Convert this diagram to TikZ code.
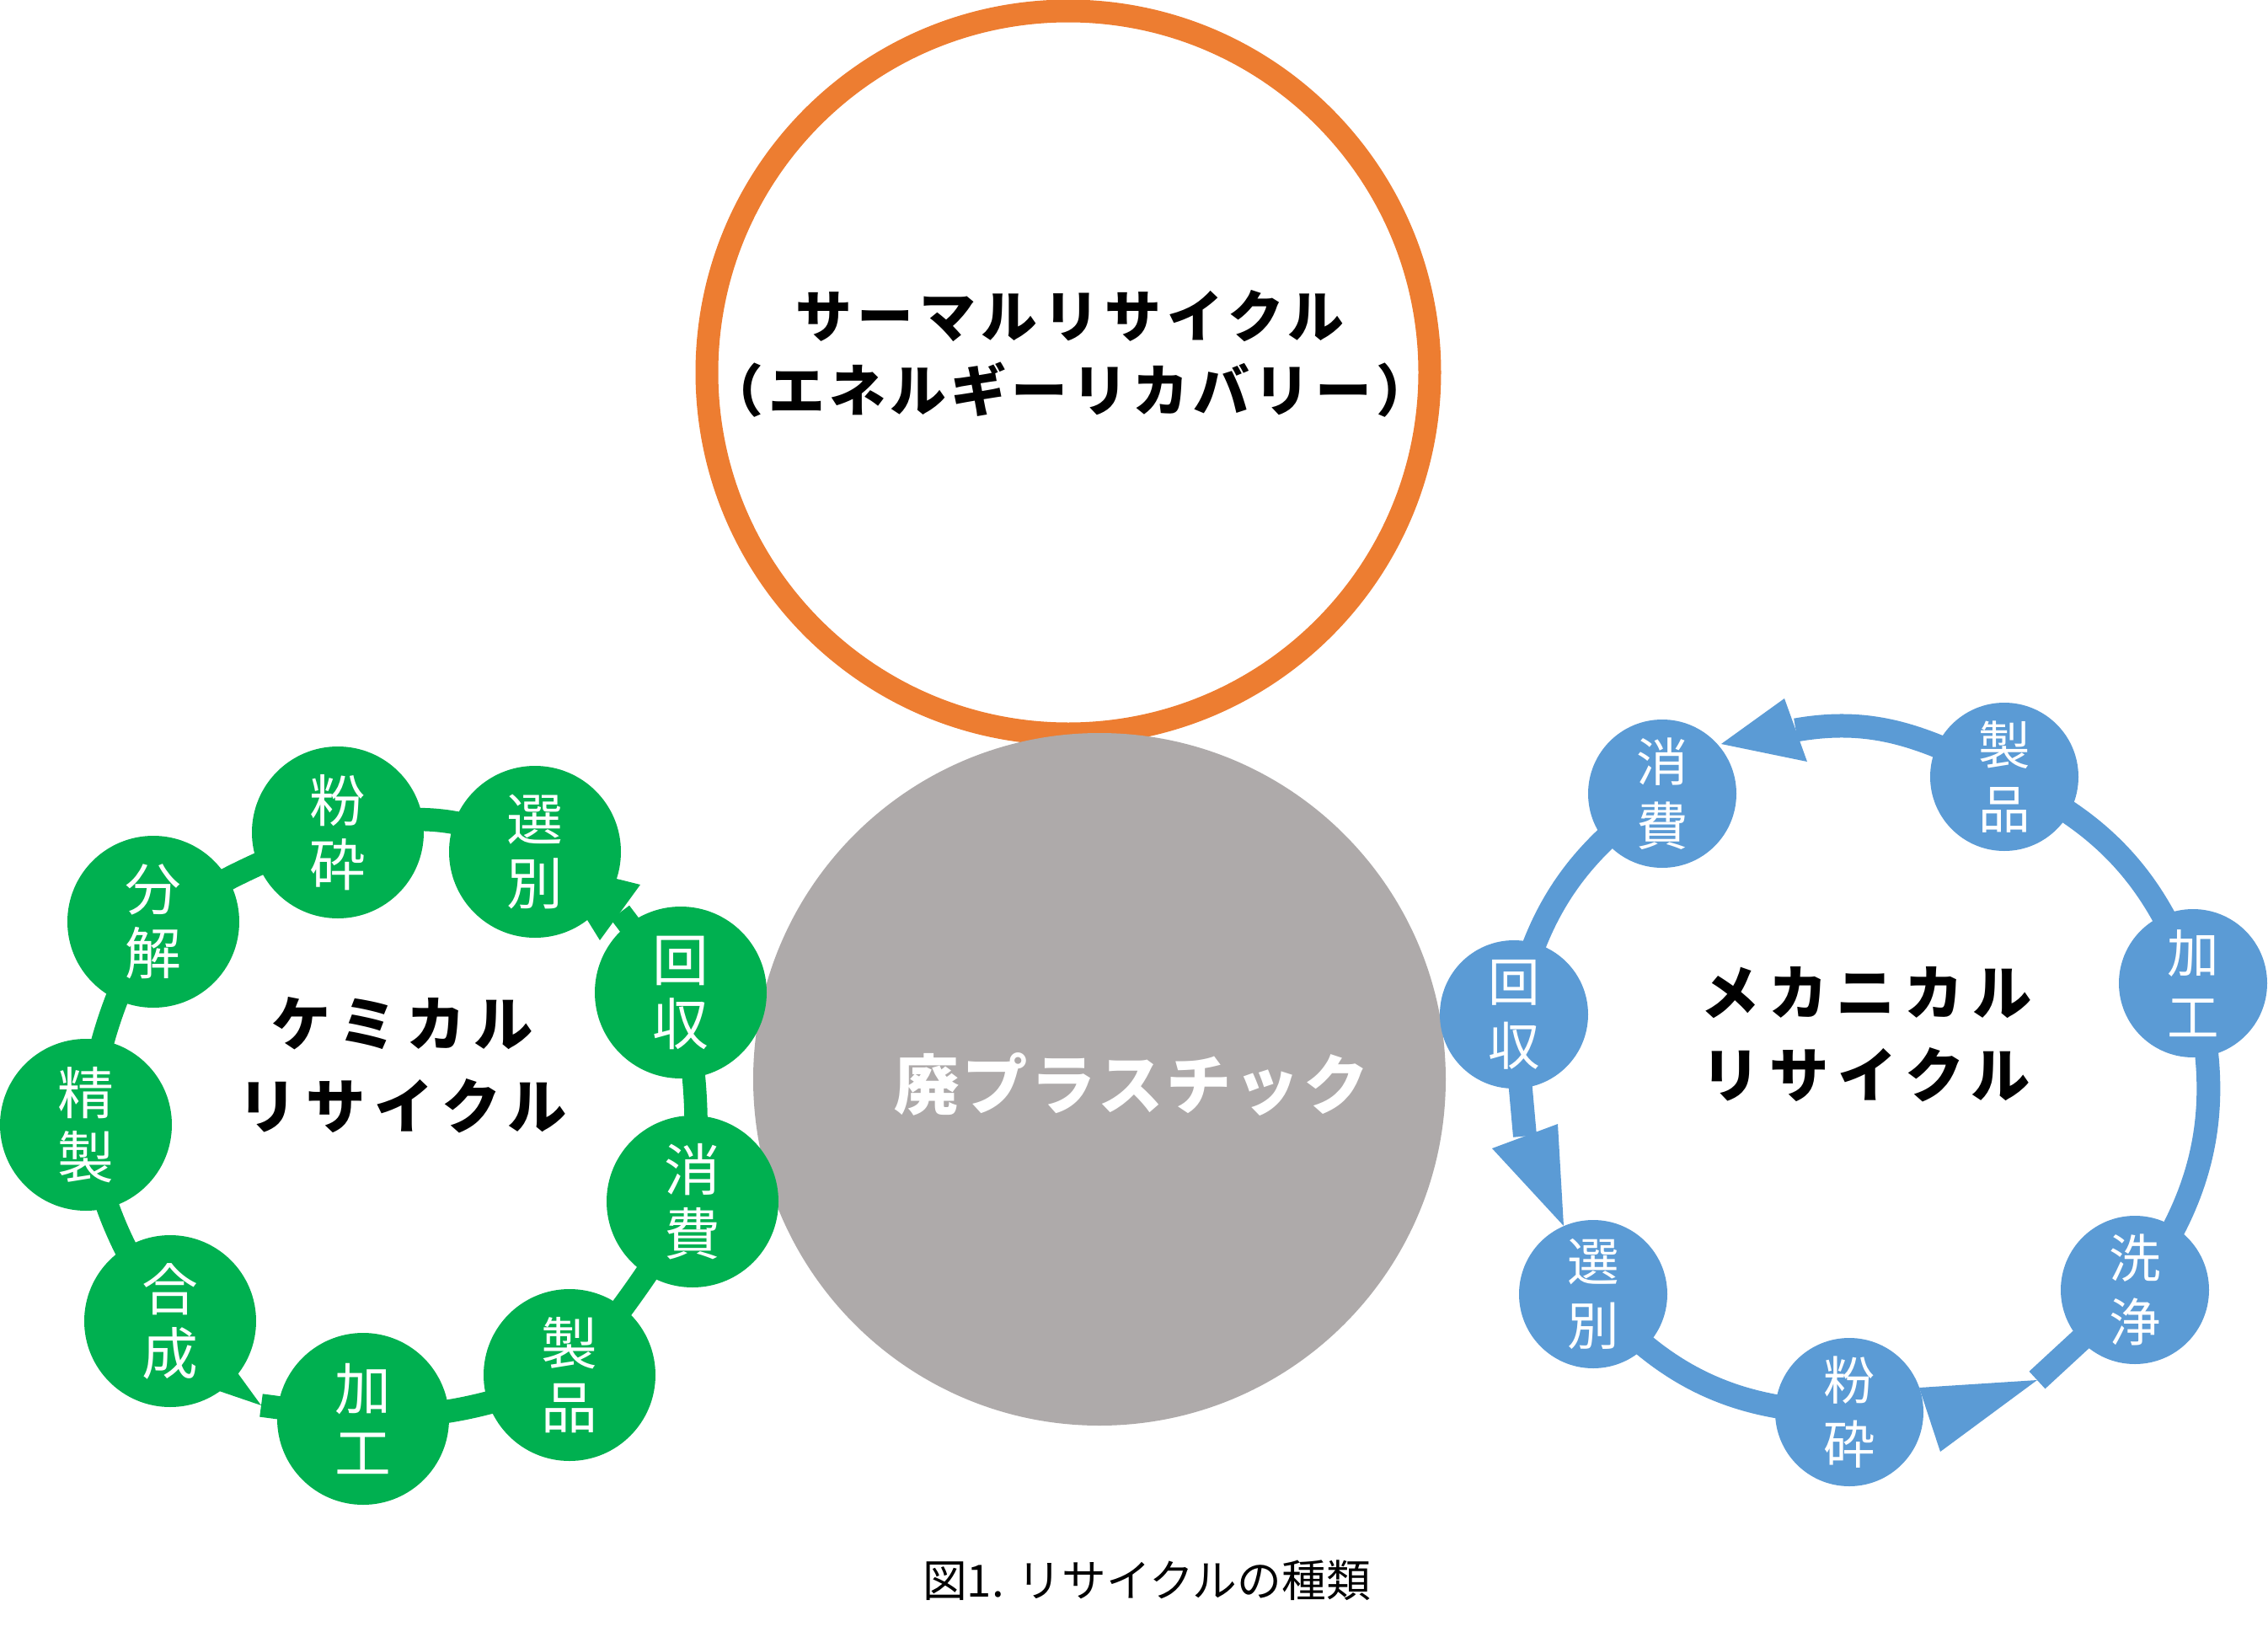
\documentclass[tikz,border=0pt]{standalone}
\usepackage{fontspec}
\setmainfont{Noto Sans CJK JP}
\usepackage{tikz}
\usetikzlibrary{backgrounds}
\definecolor{cgreen}{HTML}{00B050}
\definecolor{mblue}{HTML}{5B9BD5}
\definecolor{torange}{HTML}{ED7D31}
\definecolor{wgray}{HTML}{AEAAAA}
\tikzstyle{cstep} = [circle, fill=cgreen, text=white, minimum size=2.04cm, inner sep=0pt, align=center, font=\fontsize{19}{21.6}\selectfont]
\tikzstyle{mstep} = [circle, fill=mblue, text=white, minimum size=1.76cm, inner sep=0pt, align=center, font=\fontsize{17.5}{21.6}\selectfont]
\tikzstyle{cline} = [draw=cgreen, line width=0.275cm]
\tikzstyle{mline} = [draw=mblue, line width=0.28cm]
\tikzstyle{cycletitle} = [align=center, font=\bfseries\fontsize{20}{27.9}\selectfont\addfontfeature{LetterSpace=15}]

\begin{document}
\begin{tikzpicture}
\useasboundingbox (0,0) rectangle (26.92,-19.37);
% thermal recycling
\node [circle, draw=torange, line width=0.27cm, minimum size=8.58cm, inner sep=0pt] (thermal) at (12.68,-4.42) {};
\node [align=center, font=\bfseries\fontsize{19}{25}\selectfont] (thermal-label) at (12.70,-4.195) {{\addfontfeature{LetterSpace=10}サーマルリサイクル}\\{\addfontfeature{LetterSpace=8}（エネルギーリカバリー）}};
% waste plastic
\node [circle, fill=wgray, minimum size=8.22cm, inner sep=0pt] (waste) at (13.05,-12.81) {};
\node [text=white, font=\bfseries\fontsize{22}{26}\selectfont\addfontfeature{LetterSpace=5}] (waste-label) at (13.43,-12.87) {廃プラスチック};

% chemical recycling
\node [cstep] (c-funsai) at (4.01,-9.88) {粉\\砕};
\node [cstep] (c-senbetsu) at (6.35,-10.11) {選\\別};
\node [cstep] (c-kaishu) at (8.08,-11.78) {回\\収};
\node [cstep] (c-shohi) at (8.22,-14.26) {消\\費};
\node [cstep] (c-seihin) at (6.76,-16.32) {製\\品};
\node [cstep] (c-kako) at (4.31,-16.84) {加\\工};
\node [cstep] (c-gosei) at (2.02,-15.68) {合\\成};
\node [cstep] (c-seisei) at (1.02,-13.35) {精\\製};
\node [cstep] (c-bunkai) at (1.82,-10.94) {分\\解};
\node [cycletitle] (c-label) at (4.78,-12.64) {ケミカル\\リサイクル};
\coordinate (c-m1) at (7.36,-10.83);
\coordinate (c-b1a) at (7.60,-10.50);
\coordinate (c-b1b) at (7.12,-11.16);
\coordinate (c-t1) at (6.55,-10.24);
\coordinate (c-t2) at (3.10,-16.68);
\coordinate (c-b2a) at (2.30,-15.58);
\coordinate (c-b2b) at (1.81,-16.24);

% mechanical recycling
\node [mstep] (m-shohi) at (19.73,-9.42) {消\\費};
\node [mstep] (m-seihin) at (23.79,-9.22) {製\\品};
\node [mstep] (m-kako) at (26.03,-11.67) {加\\工};
\node [mstep] (m-senjo) at (25.34,-15.31) {洗\\浄};
\node [mstep] (m-funsai) at (21.95,-16.76) {粉\\砕};
\node [mstep] (m-senbetsu) at (18.91,-15.36) {選\\別};
\node [mstep] (m-kaishu) at (17.97,-12.04) {回\\収};
\node [cycletitle] (m-label) at (22.15,-12.28) {メカニカル\\リサイクル};
\coordinate (m-m1) at (21.315,-8.665);
\coordinate (m-b1a) at (21.18,-8.29);
\coordinate (m-b1b) at (21.45,-9.04);
\coordinate (m-t1) at (20.43,-8.83);
\coordinate (m-m2) at (18.10,-13.485);
\coordinate (m-b2a) at (17.71,-13.63);
\coordinate (m-b2b) at (18.49,-13.34);
\coordinate (m-t2) at (18.56,-14.55);
\coordinate (m-t3) at (24.18,-16.38);
\coordinate (m-b3a) at (22.78,-16.47);
\coordinate (m-b3b) at (23.03,-17.23);

\begin{pgfonlayer}{background}
\path [cline] (c-kaishu.center) -- (c-m1);
\fill [cgreen] (c-b1a) -- (c-b1b) -- (c-t1) -- cycle;
\path [cline] (c-senbetsu.center) to[bend right=22] (c-funsai.center);
\path [cline] (c-funsai.center) to[bend right=6] (c-bunkai.center);
\path [cline] (c-bunkai.center) to[bend right=10] (c-seisei.center);
\path [cline] (c-seisei.center) to[bend right=12] (c-gosei.center);
\fill [cgreen] (c-t2) -- (c-b2a) -- (c-b2b) -- cycle;
\path [cline] (c-t2) -- (c-kako.center);
\path [cline] (c-kako.center) to[bend right=10] (c-seihin.center);
\path [cline] (c-seihin.center) to[bend right=4] (c-shohi.center);
\path [cline] (c-shohi.center) to[bend right=8] (c-kaishu.center);

\path [mline] (m-kaishu.center) -- (m-m2);
\fill [mblue] (m-b2a) -- (m-b2b) -- (m-t2) -- cycle;
\path [mline] (m-senbetsu.center) to[bend right=25] (m-funsai.center);
\fill [mblue] (m-t3) -- (m-b3a) -- (m-b3b) -- cycle;
\path [mline] (m-t3) -- (m-senjo.center);
\path [mline] (m-senjo.center) to[bend right=26] (m-kako.center);
\path [mline] (m-kako.center) to[bend right=23] (m-seihin.center);
\path [mline] (m-seihin.center) to[out=154,in=10] (m-m1);
\fill [mblue] (m-b1a) -- (m-b1b) -- (m-t1) -- cycle;
\path [mline] (m-shohi.center) to[bend right=22] (m-kaishu.center);
\end{pgfonlayer}

\node [font=\fontsize{15}{18}\selectfont] (caption) at (13.61,-18.76) {図1. リサイクルの種類};
\end{tikzpicture}
\end{document}
